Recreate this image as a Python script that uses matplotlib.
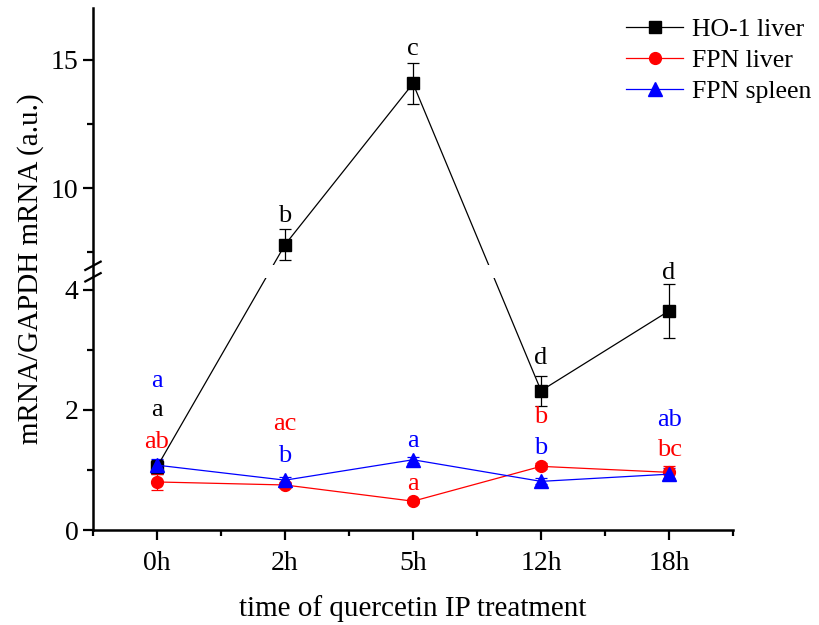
import numpy as np
import matplotlib
matplotlib.use("Agg")
import matplotlib.pyplot as plt

# data
times = ["0h", "2h", "5h", "12h", "18h"]
ho1_liver = [1.05, 7.8, 14.07, 2.32, 3.65]
ho1_liver_err = [0.12, 0.6, 0.8, 0.25, 0.45]
fpn_liver = [0.8, 0.75, 0.48, 1.06, 0.96]
fpn_liver_err = [0.13, 0.05, 0.03, 0.05, 0.1]
fpn_spleen = [1.08, 0.83, 1.17, 0.81, 0.93]
fpn_spleen_err = [0.1, 0.05, 0.05, 0.05, 0.1]

# significance letters: (x index, y value, text, colour)
letters_x = [0, 0, 0, 1, 1, 1, 2, 2, 2, 3, 3, 3, 4, 4, 4]
letters_y = [2.49, 2.0, 1.46, 1.76, 1.24, 8.9, 15.4, 1.49, 0.76,
             2.87, 1.89, 1.36, 5.3, 1.83, 1.33]
letters_txt = ["a", "a", "ab", "ac", "b", "b", "c", "a", "a",
               "d", "b", "b", "d", "ab", "bc"]
letters_col = ["blue", "black", "red", "red", "blue", "black", "black", "blue", "red",
               "black", "red", "blue", "black", "blue", "red"]

# broken axis: 0-4.2 and 7-17 drawn on one piecewise linear scale
brk_lo, brk_hi = 4.2, 7.0
src = [-100, 0, brk_lo, brk_hi, 17, 100]
dst = [-6025, 0, 253, 265.6, 523.6, 523.6 + 83 * 25.8]


def fwd(y):
    return np.interp(y, src, dst)


def inv(d):
    return np.interp(d, dst, src)


plt.rcParams['font.family'] = ['Liberation Serif', 'DejaVu Serif']

fig = plt.figure(figsize=(8.2, 6.25), dpi=100)
ax = fig.add_axes([0.1134, 0.152, 0.7806, 0.835])
ax.set_yscale('function', functions=(fwd, inv))

x = np.arange(len(times))
eb1 = ax.errorbar(x, ho1_liver, yerr=ho1_liver_err, color='black', marker='s', ms=8.5,
                  lw=0.9, elinewidth=0.9, capsize=4, capthick=0.9)
eb2 = ax.errorbar(x, fpn_liver, yerr=fpn_liver_err, color='red', marker='o', ms=8.5,
                  lw=0.9, elinewidth=0.9, capsize=4, capthick=0.9)
eb3 = ax.errorbar(x, fpn_spleen, yerr=fpn_spleen_err, color='blue', marker='^', ms=9.5,
                  lw=0.9, elinewidth=0.9, capsize=4, capthick=0.9)

# white band hides the lines at the break
ax.axhspan(brk_lo, brk_hi, color='white', zorder=2.3, lw=0)

for xi, yi, t, c in zip(letters_x, letters_y, letters_txt, letters_col):
    ax.text(xi, yi, t, color=c, fontsize=19, ha='center', va='center', zorder=4)

ax.set_xlim(-0.5, 4.5)
ax.set_ylim(0, 17)
ax.set_xticks(x)
ax.set_xticklabels(times)
ax.set_xticks(np.arange(-0.5, 4.6, 1), minor=True)
ax.set_yticks([0, 2, 4, 10, 15])
ax.set_yticks([1, 3, 7.5, 12.5], minor=True)
ax.tick_params(which='major', direction='out', length=7, width=1.6, labelsize=20)
ax.tick_params(which='minor', direction='out', length=4, width=1.6)
ax.tick_params(axis='x', pad=8)

ax.spines['top'].set_visible(False)
ax.spines['right'].set_visible(False)
ax.spines['left'].set_linewidth(1.8)
ax.spines['bottom'].set_linewidth(1.8)

# break marks on the y axis
ylo = fwd(brk_lo) / fwd(17)
yhi = fwd(brk_hi) / fwd(17)
for yy in (ylo + 0.001, yhi - 0.001):
    ax.plot([-0.012, 0.012], [yy - 0.008, yy + 0.008], transform=ax.transAxes,
            color='black', lw=1.6, clip_on=False, zorder=5)

ax.set_xlabel('time of quercetin IP treatment', fontsize=21, labelpad=14)
ax.set_ylabel('mRNA/GAPDH mRNA (a.u.)', fontsize=21, labelpad=5)

ax.legend([eb1[0], eb2[0], eb3[0]], ['HO-1 liver', 'FPN liver', 'FPN spleen'],
          loc='upper right', bbox_to_anchor=(1.138, 1.0), frameon=False,
          fontsize=18.5, handlelength=2.2, handletextpad=0.35, labelspacing=0.3,
          borderaxespad=0.0)

fig.savefig('out.png', dpi=100)
